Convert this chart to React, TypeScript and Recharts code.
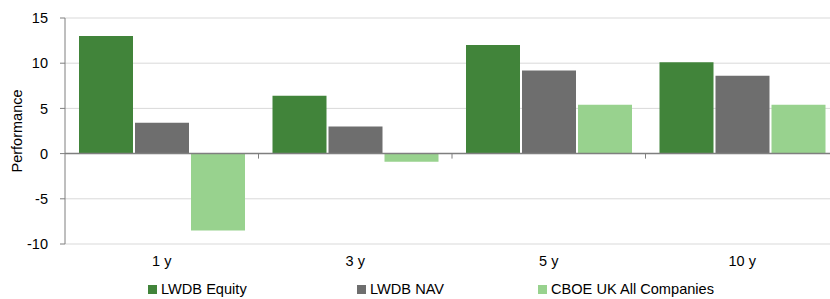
import React from "react";
import {
  BarChart, Bar, XAxis, YAxis, CartesianGrid, Legend, ReferenceLine, Label,
} from "recharts";

const CATEGORIES = ["1 y", "3 y", "5 y", "10 y"];
const LWDB_EQUITY = [13.0, 6.4, 12.0, 10.1];
const LWDB_NAV = [3.4, 3.0, 9.2, 8.6];
const CBOE_UK = [-8.5, -0.9, 5.4, 5.4];
const Y_TICKS = [-10, -5, 0, 5, 10, 15];

const SERIES = [
  { key: "equity", name: "LWDB Equity", color: "#41843a" },
  { key: "nav", name: "LWDB NAV", color: "#6e6e6e" },
  { key: "cboe", name: "CBOE UK All Companies", color: "#98d28e" },
];

const data = CATEGORIES.map((c, i) => ({
  name: c,
  equity: LWDB_EQUITY[i],
  nav: LWDB_NAV[i],
  cboe: CBOE_UK[i],
}));

// layout
const W = 850;
const H = 299;
const MARGIN = { top: 18, right: 11, left: 0, bottom: 0 };
const Y_AXIS_W = 65;
const X_AXIS_H = 35;
const LEGEND_H = 20;
const PLOT_W = W - MARGIN.left - MARGIN.right - Y_AXIS_W;
const PLOT_H = H - MARGIN.top - X_AXIS_H - LEGEND_H;
const Y_MIN = -10;
const Y_MAX = 15;
const BAND = PLOT_W / CATEGORIES.length;
const ZERO_Y = MARGIN.top + PLOT_H * (Y_MAX / (Y_MAX - Y_MIN));
const AXIS_COLOR = "#7f7f7f";
const FONT = "'Liberation Sans', Arial, sans-serif";

function CategoryTick(props: any) {
  const { x, y, payload, index } = props;
  return (
    <g>
      <text x={x} y={y + 14} textAnchor="middle" fontSize={14.5} fill="#000" fontFamily={FONT}>
        {payload.value}
      </text>
      {index < CATEGORIES.length - 1 && (
        <line
          x1={x + BAND / 2}
          x2={x + BAND / 2}
          y1={ZERO_Y}
          y2={ZERO_Y + 5}
          stroke={AXIS_COLOR}
          strokeWidth={1}
        />
      )}
    </g>
  );
}

const LEGEND_WIDTHS = [209, 181, 200];

function renderLegend() {
  return (
    <div
      style={{
        display: "flex",
        alignItems: "center",
        height: LEGEND_H,
        paddingLeft: 148,
        fontSize: 14.6,
        fontFamily: FONT,
        color: "#000",
      }}
    >
      {SERIES.map((s, i) => (
        <div key={s.key} style={{ display: "flex", alignItems: "center", width: LEGEND_WIDTHS[i] }}>
          <span style={{ display: "inline-block", width: 9, height: 9, background: s.color, marginRight: 4 }} />
          <span>{s.name}</span>
        </div>
      ))}
    </div>
  );
}

export default function App() {
  return (
    <div
      style={{
        position: "absolute",
        left: 0,
        top: 0,
        width: 830,
        height: 299,
        overflow: "hidden",
        background: "#fff",
        fontFamily: FONT,
      }}
    >
      <BarChart
        width={W}
        height={H}
        data={data}
        margin={MARGIN}
        barCategoryGap={14}
        barGap={2}
      >
        <CartesianGrid vertical={false} stroke="#d9d9d9" strokeWidth={1} />
        <XAxis
          dataKey="name"
          height={X_AXIS_H}
          axisLine={false}
          tickLine={false}
          tick={<CategoryTick />}
          interval={0}
        />
        <YAxis
          width={Y_AXIS_W}
          domain={[Y_MIN, Y_MAX]}
          ticks={Y_TICKS}
          allowDataOverflow
          axisLine={{ stroke: AXIS_COLOR, strokeWidth: 1 }}
          tickLine={{ stroke: AXIS_COLOR }}
          tickSize={5}
          tickMargin={12}
          tick={{ fill: "#000", fontSize: 14.5, fontFamily: FONT }}
        >
          <Label
            value="Performance"
            angle={-90}
            position="insideLeft"
            offset={17}
            style={{ textAnchor: "middle", fontSize: 14.5, fill: "#000", fontFamily: FONT }}
          />
        </YAxis>
        <Legend verticalAlign="bottom" height={LEGEND_H} content={renderLegend} wrapperStyle={{ left: 0, width: 830 }} />
        {SERIES.map((s) => (
          <Bar key={s.key} dataKey={s.key} name={s.name} fill={s.color} isAnimationActive={false} />
        ))}
        <ReferenceLine y={0} stroke={AXIS_COLOR} strokeWidth={1.5} />
      </BarChart>
    </div>
  );
}
